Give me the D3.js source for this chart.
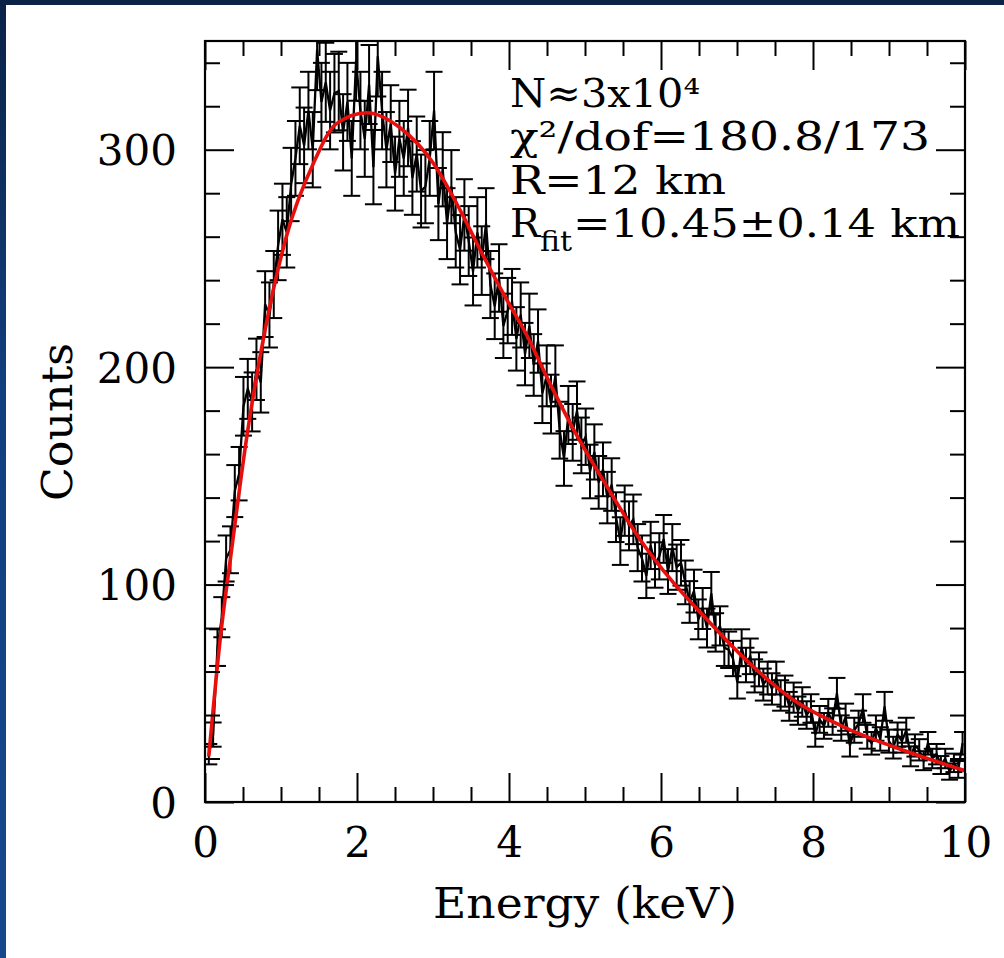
<!DOCTYPE html>
<html>
<head>
<meta charset="utf-8">
<script src="https://cdn.jsdelivr.net/npm/d3@7"></script>
<style>
  html, body { margin: 0; padding: 0; background: linear-gradient(180deg, #0a2246 0%, #123f7e 40%, #16498c 100%); }
  svg { display: block; }
</style>
</head>
<body>
<svg id="chart" width="1004" height="958"></svg>
<script>
// Spectrum bins: centre energy (keV) and counts per bin
const energies = [
  0.050,0.107,0.164,0.221,0.278,0.335,0.392,0.449,0.506,0.563,
  0.620,0.677,0.734,0.791,0.848,0.905,0.962,1.019,1.076,1.133,
  1.190,1.247,1.304,1.361,1.418,1.475,1.532,1.589,1.646,1.703,
  1.760,1.817,1.874,1.931,1.988,2.045,2.102,2.159,2.216,2.273,
  2.330,2.387,2.444,2.501,2.558,2.615,2.672,2.729,2.786,2.843,
  2.900,2.957,3.014,3.071,3.128,3.185,3.242,3.299,3.356,3.413,
  3.470,3.527,3.584,3.641,3.698,3.755,3.812,3.869,3.926,3.983,
  4.040,4.097,4.154,4.211,4.268,4.325,4.382,4.439,4.496,4.553,
  4.610,4.667,4.724,4.781,4.838,4.895,4.952,5.009,5.066,5.123,
  5.180,5.237,5.294,5.351,5.408,5.465,5.522,5.579,5.636,5.693,
  5.750,5.807,5.864,5.921,5.978,6.035,6.092,6.149,6.206,6.263,
  6.320,6.377,6.434,6.491,6.548,6.605,6.662,6.719,6.776,6.833,
  6.890,6.947,7.004,7.061,7.118,7.175,7.232,7.289,7.346,7.403,
  7.460,7.517,7.574,7.631,7.688,7.745,7.802,7.859,7.916,7.973,
  8.030,8.087,8.144,8.201,8.258,8.315,8.372,8.429,8.486,8.543,
  8.600,8.657,8.714,8.771,8.828,8.885,8.942,8.999,9.056,9.113,
  9.170,9.227,9.284,9.341,9.398,9.455,9.512,9.569,9.626,9.683,
  9.740,9.797,9.854,9.911,9.968
];
const counts = [
  22,31,71,85,112,116,143,151,182,190,
  184,199,193,229,224,238,256,268,262,284,
  296,311,302,318,300,346,322,331,318,326,
  327,308,322,296,341,318,305,330,292,343,
  318,300,312,289,305,296,310,287,298,281,
  283,296,318,275,291,266,283,262,254,270,
  258,244,262,249,266,238,228,241,219,226,
  230,213,224,206,219,201,212,188,196,183,
  196,171,158,178,170,180,164,168,152,161,
  147,153,140,146,131,120,134,127,130,117,
  112,104,118,109,113,121,106,117,108,110,
  101,92,97,84,89,80,96,78,81,71,
  70,66,55,71,63,67,58,61,54,57,
  52,57,49,51,44,48,42,46,40,43,
  31,38,35,41,37,50,34,39,26,33,
  36,43,30,27,34,29,44,28,25,31,
  28,33,21,26,24,19,27,20,22,17,
  20,14,18,15,27
];

// Best-fit model curve
const fitEnergies = [0.05,0.2,0.35,0.55,0.79,1.07,1.43,1.73,2.13,2.57,3.0,3.36,3.62,3.97,4.23,4.49,4.84,5.29,5.72,6.16,6.55,7.04,7.74,8.4,9.06,10.0];
const fitCounts   = [21,75,116,168,217,260,294,312,317,310,294,272,254,231,215,196,172,145,121,101,86,68,47,34.6,25.4,14.4];

// Axis ticks
const xMajorTicks = [0,2,4,6,8,10];
const xMinorTicks = [0.5,1,1.5,2.5,3,3.5,4.5,5,5.5,6.5,7,7.5,8.5,9,9.5];
const yMajorTicks = [0,100,200,300];
const yMinorTicks = [20,40,60,80,120,140,160,180,220,240,260,280,320,340];

const FONT = "'DejaVu Serif', 'Liberation Serif', serif";

const svg = d3.select("#chart");

// white page panel inside the blue border
svg.append("rect").attr("x", 6).attr("y", 5).attr("width", 998).attr("height", 953).attr("fill", "#ffffff");

const L = 205, R = 965, T = 41, B = 802;
const x = d3.scaleLinear().domain([0, 10]).range([L, R]);
const y = d3.scaleLinear().domain([0, 350]).range([B, T]);

svg.append("clipPath").attr("id", "plotClip")
  .append("rect").attr("x", L).attr("y", T).attr("width", R - L).attr("height", B - T);

const plot = svg.append("g").attr("clip-path", "url(#plotClip)");

const points = energies.map((e, i) => ({ e, c: counts[i], err: Math.sqrt(counts[i]) }));

// error bars with caps
const capHalf = 8.5;
const bars = plot.append("g").attr("stroke", "#000").attr("stroke-width", 2).attr("fill", "none");
points.forEach(p => {
  const px = x(p.e), y1 = y(p.c + p.err), y0 = y(p.c - p.err);
  bars.append("line").attr("x1", px).attr("x2", px).attr("y1", y1).attr("y2", y0);
  bars.append("line").attr("x1", px - capHalf).attr("x2", px + capHalf).attr("y1", y1).attr("y2", y1);
  bars.append("line").attr("x1", px - capHalf).attr("x2", px + capHalf).attr("y1", y0).attr("y2", y0);
});

// data polyline
plot.append("path")
  .datum(points)
  .attr("fill", "none").attr("stroke", "#000").attr("stroke-width", 2.3).attr("stroke-linejoin", "miter")
  .attr("d", d3.line().x(d => x(d.e)).y(d => y(d.c)));

// model curve
plot.append("path")
  .datum(fitEnergies.map((e, i) => [e, fitCounts[i]]))
  .attr("fill", "none").attr("stroke", "#e8100e").attr("stroke-width", 3.6)
  .attr("d", d3.line().x(d => x(d[0])).y(d => y(d[1])).curve(d3.curveMonotoneX));

// axes: inward ticks on all four sides
function styleAxis(g) {
  g.select(".domain").remove();
  g.selectAll(".tick line").attr("stroke", "#000").attr("stroke-width", 2);
  g.selectAll("text").attr("font-family", FONT).attr("font-size", 42).attr("fill", "#000");
}
const MAJ = 29, MIN = 15;

const gBottom = svg.append("g").attr("transform", `translate(0,${B})`);
gBottom.append("g").call(d3.axisBottom(x).tickValues(xMinorTicks).tickSize(-MIN).tickFormat("")).call(styleAxis);
gBottom.append("g").call(d3.axisBottom(x).tickValues(xMajorTicks).tickSize(-MAJ).tickFormat(d3.format("d"))).call(styleAxis)
  .selectAll("text").attr("dy", null).attr("y", 55);

const gTop = svg.append("g").attr("transform", `translate(0,${T})`);
gTop.append("g").call(d3.axisTop(x).tickValues(xMinorTicks).tickSize(-MIN).tickFormat("")).call(styleAxis);
gTop.append("g").call(d3.axisTop(x).tickValues(xMajorTicks).tickSize(-MAJ).tickFormat("")).call(styleAxis);

const gLeft = svg.append("g").attr("transform", `translate(${L},0)`);
gLeft.append("g").call(d3.axisLeft(y).tickValues(yMinorTicks).tickSize(-MIN).tickFormat("")).call(styleAxis);
gLeft.append("g").call(d3.axisLeft(y).tickValues(yMajorTicks).tickSize(-MAJ).tickFormat(d3.format("d"))).call(styleAxis)
  .selectAll("text").attr("dy", null).attr("x", -28).attr("y", 15);

const gRight = svg.append("g").attr("transform", `translate(${R},0)`);
gRight.append("g").call(d3.axisRight(y).tickValues(yMinorTicks).tickSize(-MIN).tickFormat("")).call(styleAxis);
gRight.append("g").call(d3.axisRight(y).tickValues(yMajorTicks).tickSize(-MAJ).tickFormat("")).call(styleAxis);

// frame
svg.append("rect").attr("x", L).attr("y", T).attr("width", R - L).attr("height", B - T)
  .attr("fill", "none").attr("stroke", "#000").attr("stroke-width", 2.2);

// axis titles
svg.append("text").attr("x", 585).attr("y", 918).attr("text-anchor", "middle")
  .attr("font-family", FONT).attr("font-size", 42).attr("textLength", 304).attr("lengthAdjust", "spacingAndGlyphs")
  .text("Energy (keV)");
svg.append("text").attr("transform", "translate(72,422) rotate(-90)").attr("text-anchor", "middle")
  .attr("font-family", FONT).attr("font-size", 42).attr("textLength", 158).attr("lengthAdjust", "spacingAndGlyphs")
  .text("Counts");

// fit annotation
const ann = svg.append("g").attr("font-family", FONT).attr("font-size", 40).attr("fill", "#000");
ann.append("text").attr("x", 510).attr("y", 107).attr("textLength", 190).attr("lengthAdjust", "spacingAndGlyphs").text("N≈3x10⁴");
ann.append("text").attr("x", 510).attr("y", 150).attr("textLength", 420).attr("lengthAdjust", "spacingAndGlyphs").text("χ²/dof=180.8/173");
ann.append("text").attr("x", 510).attr("y", 194).attr("textLength", 216).attr("lengthAdjust", "spacingAndGlyphs").text("R=12  km");
ann.append("text").attr("x", 510).attr("y", 237).attr("textLength", 30).attr("lengthAdjust", "spacingAndGlyphs").text("R");
ann.append("text").attr("x", 540).attr("y", 251).attr("font-size", 27).attr("textLength", 32).attr("lengthAdjust", "spacingAndGlyphs").text("fit");
ann.append("text").attr("x", 573).attr("y", 237).attr("textLength", 387).attr("lengthAdjust", "spacingAndGlyphs").text("=10.45±0.14  km");
</script>
</body>
</html>
